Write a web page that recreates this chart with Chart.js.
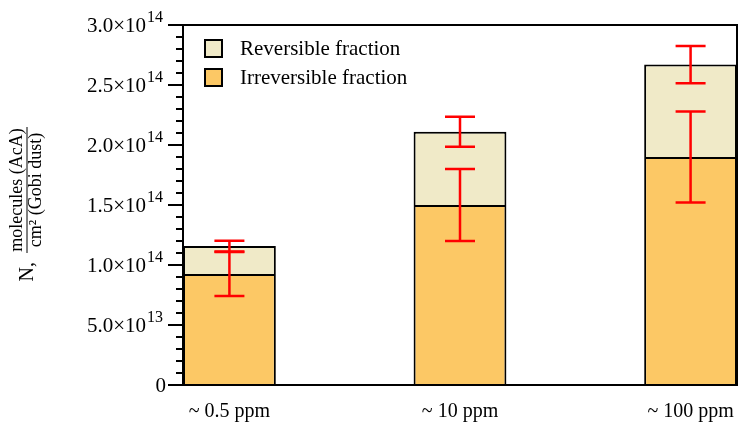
<!DOCTYPE html>
<html>
<head>
<meta charset="utf-8">
<script src="https://cdn.jsdelivr.net/npm/chart.js@4.4.0/dist/chart.umd.min.js"></script>
<style>
  html, body { margin: 0; padding: 0; background: #fff; }
  #wrap { width: 739px; height: 430px; position: relative; }
</style>
</head>
<body>
<div id="wrap"><canvas id="chart"></canvas></div>
<script>
// data (values in molecules / cm2)
const categories = ["~ 0.5 ppm", "~ 10 ppm", "~ 100 ppm"];
const irreversible = [0.925e14, 1.50e14, 1.90e14];
const reversible = [0.233e14, 0.61e14, 0.77e14];
const irreversibleErr = [0.183e14, 0.30e14, 0.38e14];
const totalErr = [0.045e14, 0.125e14, 0.155e14];
const yTicks = [0, 5e13, 1e14, 1.5e14, 2e14, 2.5e14, 3e14];
const yTickLabels = [["0", ""], ["5.0×10", "13"], ["1.0×10", "14"], ["1.5×10", "14"],
  ["2.0×10", "14"], ["2.5×10", "14"], ["3.0×10", "14"]];
const legendLabels = ["Reversible fraction", "Irreversible fraction"];

const SERIF = "'Liberation Serif', 'Times New Roman', serif";
const REV_COLOR = "#f0eac8";
const IRR_COLOR = "#fcc865";

// error bars, frame, y ticks with superscripts, title and legend
const decorations = {
  id: "decorations",
  afterDatasetsDraw(chart) {
    const { ctx, chartArea: a, scales: { x, y } } = chart;
    ctx.save();

    // error bars
    ctx.strokeStyle = "#ff0000";
    ctx.lineWidth = 2.5;
    categories.forEach((c, i) => {
      const px = x.getPixelForValue(i);
      const total = irreversible[i] + reversible[i];
      [[irreversible[i], irreversibleErr[i]], [total, totalErr[i]]].forEach(([v, e]) => {
        const top = y.getPixelForValue(v + e);
        const bot = y.getPixelForValue(v - e);
        ctx.beginPath();
        ctx.moveTo(px, top); ctx.lineTo(px, bot);
        ctx.moveTo(px - 15, top); ctx.lineTo(px + 15, top);
        ctx.moveTo(px - 15, bot); ctx.lineTo(px + 15, bot);
        ctx.stroke();
      });
    });

    // frame
    ctx.strokeStyle = "#000";
    ctx.lineWidth = 2;
    ctx.strokeRect(a.left, a.top, a.right - a.left, a.bottom - a.top);

    // y ticks, minor every 1e13
    const minorStep = 1e13;
    for (let k = 0; k <= 30; k++) {
      const py = y.getPixelForValue(k * minorStep);
      const len = k % 5 === 0 ? 15 : 7;
      ctx.beginPath();
      ctx.moveTo(a.left - len, py);
      ctx.lineTo(a.left, py);
      ctx.stroke();
    }

    // y tick labels: mantissa x 10 with a superscript exponent
    ctx.fillStyle = "#000";
    ctx.textBaseline = "middle";
    yTicks.forEach((v, i) => {
      const py = y.getPixelForValue(v);
      const [m, e] = yTickLabels[i];
      if (e) {
        ctx.textAlign = "right";
        ctx.font = "21px " + SERIF;
        ctx.fillText(m, a.left - 37, py + 1);
        ctx.textAlign = "left";
        ctx.font = "16px " + SERIF;
        ctx.fillText(e, a.left - 36, py - 7);
      } else {
        ctx.textAlign = "right";
        ctx.font = "21px " + SERIF;
        ctx.fillText(m, a.left - 17, py + 1);
      }
    });

    // y title: N, molecules (AcA) / cm2 (Gobi dust)
    ctx.save();
    ctx.translate(27, (a.top + a.bottom) / 2 - 15);
    ctx.rotate(-Math.PI / 2);
    ctx.textBaseline = "alphabetic";
    ctx.textAlign = "center";
    ctx.font = "18px " + SERIF;
    ctx.fillText("molecules (AcA)", 0, -5);
    ctx.fillText("cm² (Gobi dust)", 0, 14);
    ctx.lineWidth = 1;
    ctx.beginPath();
    ctx.moveTo(-63, 0); ctx.lineTo(63, 0);
    ctx.stroke();
    ctx.textAlign = "right";
    ctx.font = "20px " + SERIF;
    ctx.fillText("N,", -72, 6);
    ctx.restore();

    // legend
    const colors = [REV_COLOR, IRR_COLOR];
    ctx.font = "21px " + SERIF;
    ctx.textAlign = "left";
    ctx.textBaseline = "middle";
    ctx.lineWidth = 2;
    legendLabels.forEach((t, i) => {
      const ly = a.top + 23 + i * 29;
      ctx.fillStyle = colors[i];
      ctx.fillRect(a.left + 22, ly - 8, 17, 17);
      ctx.strokeStyle = "#000";
      ctx.strokeRect(a.left + 22, ly - 8, 17, 17);
      ctx.fillStyle = "#000";
      ctx.fillText(t, a.left + 57, ly + 1);
    });

    ctx.restore();
  }
};

new Chart(document.getElementById("chart"), {
  type: "bar",
  data: {
    datasets: [
      {
        label: "Irreversible fraction",
        data: irreversible.map((v, i) => ({ x: i, y: v })),
        backgroundColor: IRR_COLOR,
        borderColor: "#000",
        borderWidth: 2,
        borderSkipped: "start"
      },
      {
        label: "Reversible fraction",
        data: reversible.map((v, i) => ({ x: i, y: v })),
        backgroundColor: REV_COLOR,
        borderColor: "#000",
        borderWidth: 2,
        borderSkipped: "start"
      }
    ]
  },
  options: {
    responsive: true,
    maintainAspectRatio: false,
    animation: false,
    layout: { padding: { left: 0, top: 25, right: 2, bottom: 0 } },
    datasets: { bar: { categoryPercentage: 1, barPercentage: 0.4026 } },
    plugins: {
      legend: { display: false },
      tooltip: { enabled: false }
    },
    scales: {
      x: {
        type: "linear",
        stacked: true,
        offset: false,
        min: -0.2013,
        max: 2.2013,
        afterBuildTicks: (s) => { s.ticks = categories.map((c, i) => ({ value: i })); },
        afterFit: (s) => { s.height = 45; s.paddingLeft = 0; s.paddingRight = 0; },
        grid: { display: false, drawTicks: false, offset: false },
        border: { display: false },
        ticks: {
          padding: 15,
          color: "#000",
          font: { family: SERIF, size: 20 },
          callback: (v) => categories[v],
          maxRotation: 0
        }
      },
      y: {
        stacked: true,
        min: 0,
        max: 3e14,
        afterFit: (s) => { s.width = 183; },
        grid: { display: false },
        border: { display: false },
        ticks: { display: false, stepSize: 5e13 }
      }
    }
  },
  plugins: [decorations]
});
</script>
</body>
</html>
